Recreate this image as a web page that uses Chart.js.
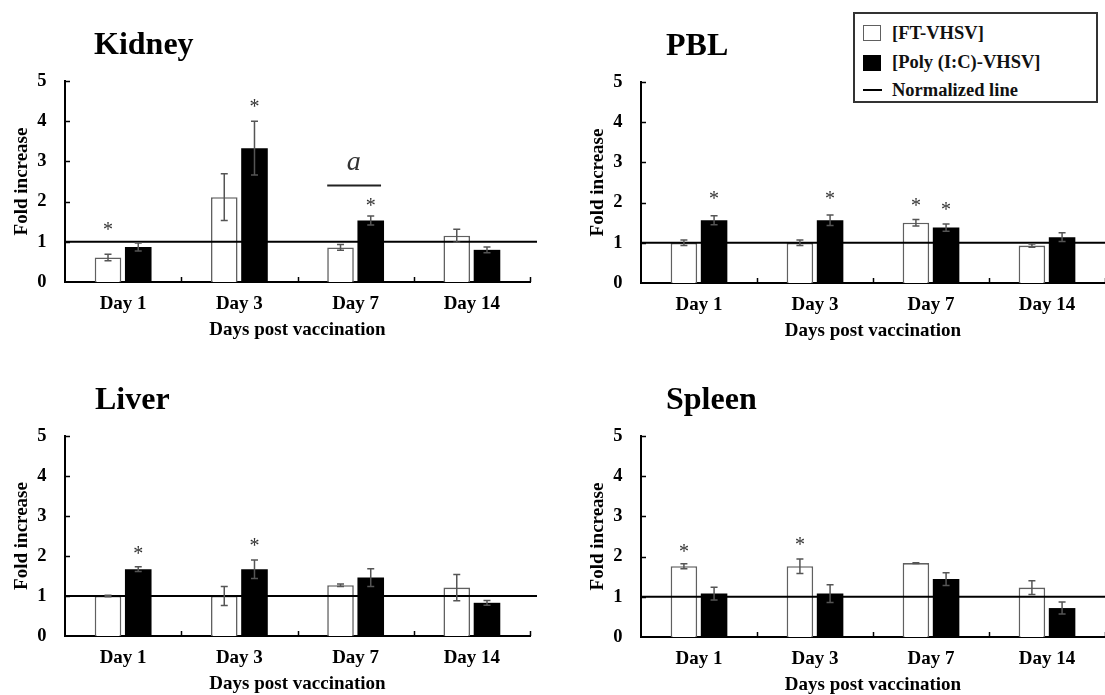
<!DOCTYPE html>
<html>
<head>
<meta charset="utf-8">
<script src="https://cdn.jsdelivr.net/npm/chart.js@4.4.1/dist/chart.umd.min.js"></script>
<style>
  html, body { margin: 0; padding: 0; background: #fff; }
  body { width: 1105px; height: 695px; position: relative; overflow: hidden; }
  .panel { position: absolute; }
  .panel canvas { display: block; }
  #legend {
    position: absolute; left: 853px; top: 12px; width: 241px; height: 87px;
    border: 2px solid #333; background: #fff; z-index: 5;
    font: bold 18.5px "Liberation Serif", "Times New Roman", serif; color: #111;
  }
  #legend .row { position: absolute; left: 8px; height: 22px; display: flex; align-items: center; white-space: nowrap; }
  #legend .sw { width: 18px; height: 16px; margin-right: 11px; box-sizing: border-box; }
  #legend .ln { width: 19px; height: 2.5px; background: #000; margin-right: 10px; }
</style>
</head>
<body>
<div id="legend"></div>
<div class="panel" id="p0"><canvas id="c0"></canvas></div>
<div class="panel" id="p1"><canvas id="c1"></canvas></div>
<div class="panel" id="p2"><canvas id="c2"></canvas></div>
<div class="panel" id="p3"><canvas id="c3"></canvas></div>
<script>
// ---------------- data ----------------
const categories = ['Day 1', 'Day 3', 'Day 7', 'Day 14'];
const seriesNames = ['[FT-VHSV]', '[Poly (I:C)-VHSV]'];
const normalizedLabel = 'Normalized line';
const normalizedLevel = 1;
const yTickMin = 0;
const yTickMax = 5;
const yTickStep = 1;
const xAxisTitle = 'Days post vaccination';
const yAxisTitle = 'Fold increase';
const panelTitles = ['Kidney', 'PBL', 'Liver', 'Spleen'];

// Kidney
const kidneyFT       = [0.61, 2.11, 0.86, 1.15];
const kidneyFTErr    = [0.08, 0.58, 0.07, 0.16];
const kidneyPoly     = [0.87, 3.33, 1.53, 0.80];
const kidneyPolyErr  = [0.10, 0.67, 0.11, 0.07];
const kidneyFTStar   = [1.37, null, null, null];
const kidneyPolyStar = [null, 4.44, 1.98, null];
const kidneyLetterText  = [null, null, 'a', null];
const kidneyLetterLevel = [null, null, 2.95, null];
const kidneyLetterBar   = [null, null, 2.40, null];

// PBL
const pblFT       = [1.00, 1.00, 1.50, 0.93];
const pblFTErr    = [0.07, 0.07, 0.08, 0.04];
const pblPoly     = [1.56, 1.56, 1.38, 1.14];
const pblPolyErr  = [0.11, 0.13, 0.09, 0.11];
const pblFTStar   = [null, null, 2.00, null];
const pblPolyStar = [2.18, 2.18, 1.91, null];

// Liver
const liverFT       = [1.00, 1.00, 1.27, 1.21];
const liverFTErr    = [0.02, 0.24, 0.03, 0.33];
const liverPoly     = [1.67, 1.67, 1.46, 0.83];
const liverPolyErr  = [0.06, 0.23, 0.22, 0.06];
const liverFTStar   = [null, null, null, null];
const liverPolyStar = [2.14, 2.35, null, null];

// Spleen
const spleenFT       = [1.76, 1.76, 1.84, 1.23];
const spleenFTErr    = [0.06, 0.18, 0.01, 0.17];
const spleenPoly     = [1.08, 1.08, 1.44, 0.72];
const spleenPolyErr  = [0.16, 0.22, 0.16, 0.15];
const spleenFTStar   = [2.19, 2.37, null, null];
const spleenPolyStar = [null, null, null, null];

// ---------------- styling / layout ----------------
const FONT = '"Liberation Serif", "Times New Roman", serif';
const ftStyle   = { fill: '#ffffff', border: '#606060', borderWidth: 1.6 };
const polyStyle = { fill: '#000000', border: '#000000', borderWidth: 0 };
const errColor = '#555555';

const layoutBoxes = [
  { left: 0,   top: 0,   width: 545, plotTop: 81, plotBottom: 282, plotRight: 530, titleDx: 29, overhang: 7 },
  { left: 576, top: 0,   width: 529, plotTop: 82, plotBottom: 283, plotRight: 529, titleDx: 25, overhang: 7 },
  { left: 0,   top: 345, width: 545, plotTop: 91, plotBottom: 291, plotRight: 530, titleDx: 30, overhang: 7 },
  { left: 576, top: 345, width: 529, plotTop: 91, plotBottom: 292, plotRight: 529, titleDx: 25, overhang: 7 }
];
const X_AXIS_HEIGHT = 59;
const Y_AXIS_WIDTH = 65;

const panels = [
  { title: panelTitles[0], ft: kidneyFT, ftErr: kidneyFTErr, ftStar: kidneyFTStar,
    poly: kidneyPoly, polyErr: kidneyPolyErr, polyStar: kidneyPolyStar,
    letterText: kidneyLetterText, letterLevel: kidneyLetterLevel, letterBar: kidneyLetterBar },
  { title: panelTitles[1], ft: pblFT, ftErr: pblFTErr, ftStar: pblFTStar,
    poly: pblPoly, polyErr: pblPolyErr, polyStar: pblPolyStar },
  { title: panelTitles[2], ft: liverFT, ftErr: liverFTErr, ftStar: liverFTStar,
    poly: liverPoly, polyErr: liverPolyErr, polyStar: liverPolyStar },
  { title: panelTitles[3], ft: spleenFT, ftErr: spleenFTErr, ftStar: spleenFTStar,
    poly: spleenPoly, polyErr: spleenPolyErr, polyStar: spleenPolyStar }
];

// ---------------- plugin: error bars, normalized line, stars, inward ticks, title ----------------
const panelExtras = {
  id: 'panelExtras',
  afterDatasetsDraw(chart, args, opts) {
    const ctx = chart.ctx, ca = chart.chartArea;
    const xs = chart.scales.x, ys = chart.scales.y;
    ctx.save();

    // inward tick marks on y axis
    ctx.strokeStyle = '#000';
    ctx.lineWidth = 1.5;
    ys.ticks.forEach(t => {
      if (t.value === yTickMin) return;
      const py = Math.round(ys.getPixelForValue(t.value)) + 0.5;
      ctx.beginPath(); ctx.moveTo(ca.left, py); ctx.lineTo(ca.left + 5, py); ctx.stroke();
    });
    // inward tick marks on x axis (category boundaries)
    const half = (xs.getPixelForValue(1) - xs.getPixelForValue(0)) / 2;
    for (let i = 0; i < categories.length; i++) {
      const px = Math.round(xs.getPixelForValue(i) + half) + 0.5;
      ctx.beginPath(); ctx.moveTo(px, ca.bottom); ctx.lineTo(px, ca.bottom - 5); ctx.stroke();
    }

    // normalized line
    const ny = ys.getPixelForValue(opts.level);
    ctx.strokeStyle = '#000';
    ctx.lineWidth = 2;
    ctx.beginPath(); ctx.moveTo(ca.left, ny); ctx.lineTo(ca.right + opts.overhang, ny); ctx.stroke();

    // error bars
    ctx.strokeStyle = errColor;
    ctx.lineWidth = 1.5;
    chart.data.datasets.forEach((ds, di) => {
      const meta = chart.getDatasetMeta(di);
      meta.data.forEach((bar, i) => {
        const v = ds.data[i], e = ds.errors[i];
        if (v == null || e == null) return;
        const yTop = ys.getPixelForValue(v + e);
        const yBot = ys.getPixelForValue(v - e);
        const bx = bar.x, cw = 3.5;
        ctx.beginPath();
        ctx.moveTo(bx, yTop); ctx.lineTo(bx, yBot);
        ctx.moveTo(bx - cw, yTop); ctx.lineTo(bx + cw, yTop);
        ctx.moveTo(bx - cw, yBot); ctx.lineTo(bx + cw, yBot);
        ctx.stroke();
      });
    });

    // significance stars
    ctx.fillStyle = '#333';
    ctx.font = '20px ' + FONT;
    ctx.textAlign = 'center';
    ctx.textBaseline = 'alphabetic';
    chart.data.datasets.forEach((ds, di) => {
      const meta = chart.getDatasetMeta(di);
      (ds.stars || []).forEach((s, i) => {
        if (s == null) return;
        ctx.fillText('*', meta.data[i].x, ys.getPixelForValue(s) + 9.5);
      });
    });

    // letter annotation with bar underneath
    if (opts.letterText) {
      const m0 = chart.getDatasetMeta(0), m1 = chart.getDatasetMeta(1);
      opts.letterText.forEach((txt, i) => {
        if (txt == null) return;
        const xl = m0.data[i].x - m0.data[i].width / 2;
        const xr = m1.data[i].x + m1.data[i].width / 2 - 3;
        ctx.fillStyle = '#333';
        ctx.font = 'italic 28px ' + FONT;
        ctx.fillText(txt, xs.getPixelForValue(i) - 2, ys.getPixelForValue(opts.letterLevel[i]) + 6.5);
        ctx.strokeStyle = '#222';
        ctx.lineWidth = 2;
        const ly = ys.getPixelForValue(opts.letterBar[i]);
        ctx.beginPath(); ctx.moveTo(xl, ly); ctx.lineTo(xr, ly); ctx.stroke();
      });
    }
    ctx.restore();
  },
  afterDraw(chart, args, opts) {
    const ctx = chart.ctx, ca = chart.chartArea;
    ctx.save();
    ctx.fillStyle = '#000';
    ctx.font = 'bold 32px ' + FONT;
    ctx.textAlign = 'left';
    ctx.textBaseline = 'alphabetic';
    ctx.fillText(opts.title, ca.left + opts.titleDx, ca.top - 27.5);
    ctx.restore();
  }
};

// ---------------- build charts ----------------
panels.forEach((p, k) => {
  const box = layoutBoxes[k];
  const wrap = document.getElementById('p' + k);
  wrap.style.left = box.left + 'px';
  wrap.style.top = box.top + 'px';
  const canvas = document.getElementById('c' + k);
  const h = box.plotBottom + X_AXIS_HEIGHT;
  canvas.width = box.width;
  canvas.height = h;
  canvas.style.width = box.width + 'px';
  canvas.style.height = h + 'px';

  new Chart(canvas, {
    type: 'bar',
    data: {
      labels: categories,
      datasets: [
        { label: seriesNames[0], data: p.ft, errors: p.ftErr, stars: p.ftStar,
          backgroundColor: ftStyle.fill, borderColor: ftStyle.border, borderWidth: ftStyle.borderWidth,
          categoryPercentage: 0.52, barPercentage: 0.88 },
        { label: seriesNames[1], data: p.poly, errors: p.polyErr, stars: p.polyStar,
          backgroundColor: polyStyle.fill, borderColor: polyStyle.border, borderWidth: polyStyle.borderWidth,
          categoryPercentage: 0.52, barPercentage: 0.88 }
      ]
    },
    options: {
      responsive: false,
      animation: false,
      devicePixelRatio: 1,
      layout: { padding: { top: box.plotTop, left: 0, right: box.width - box.plotRight, bottom: 0 } },
      plugins: {
        legend: { display: false },
        tooltip: { enabled: false },
        panelExtras: {
          title: p.title, titleDx: box.titleDx, overhang: box.overhang, level: normalizedLevel,
          letterText: p.letterText, letterLevel: p.letterLevel, letterBar: p.letterBar
        }
      },
      scales: {
        x: {
          type: 'category',
          offset: true,
          grid: { display: false, drawTicks: false },
          border: { display: true, color: '#000', width: 2 },
          ticks: { color: '#000', font: { family: FONT, size: 19, weight: 'bold' }, padding: 11, maxRotation: 0, autoSkip: false },
          title: { display: true, text: xAxisTitle, color: '#000', font: { family: FONT, size: 19, weight: 'bold' }, padding: { top: 0, bottom: 0 } },
          afterFit: s => { s.height = X_AXIS_HEIGHT; }
        },
        y: {
          min: yTickMin, max: yTickMax,
          grid: { display: false, drawTicks: false },
          border: { display: true, color: '#000', width: 2 },
          ticks: { stepSize: yTickStep, color: '#000', font: { family: FONT, size: 18.5, weight: 'bold' }, padding: 18.5 },
          title: { display: true, text: yAxisTitle, color: '#000', font: { family: FONT, size: 19, weight: 'bold' }, padding: { top: 10.6, bottom: 0 } },
          afterFit: s => { s.width = Y_AXIS_WIDTH; }
        }
      }
    },
    plugins: [panelExtras]
  });
});

// ---------------- legend (HTML) ----------------
const legendItems = [
  { label: seriesNames[0], kind: 'box', fill: ftStyle.fill, border: ftStyle.border },
  { label: seriesNames[1], kind: 'box', fill: polyStyle.fill, border: polyStyle.border },
  { label: normalizedLabel, kind: 'line' }
];
const legendRowTops = [8, 37.5, 65];
const legendEl = document.getElementById('legend');
legendItems.forEach((it, i) => {
  const row = document.createElement('div');
  row.className = 'row';
  row.style.top = legendRowTops[i] + 'px';
  const sw = document.createElement('span');
  if (it.kind === 'box') {
    sw.className = 'sw';
    sw.style.background = it.fill;
    sw.style.border = '1px solid ' + it.border;
  } else {
    sw.className = 'ln';
  }
  const tx = document.createElement('span');
  tx.textContent = it.label;
  row.appendChild(sw);
  row.appendChild(tx);
  legendEl.appendChild(row);
});
</script>
</body>
</html>
